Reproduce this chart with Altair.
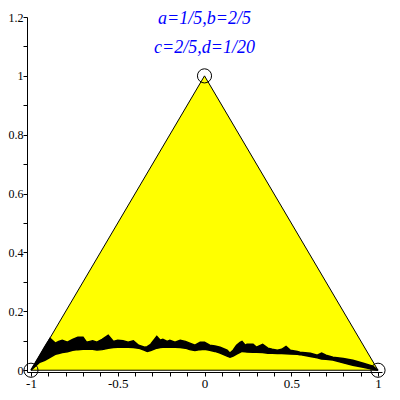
import altair as alt
import pandas as pd

# Triangle vertices
tri_x = [-1.0, 0.0, 1.0, -1.0]
tri_y = [0.0, 1.0, 0.0, 0.0]

# Fractal band: common x grid, upper and lower envelope
band_x = [-1.0, -0.95, -0.92, -0.89, -0.86, -0.84, -0.82, -0.79, -0.76, -0.73,
          -0.70, -0.68, -0.66, -0.645, -0.62, -0.59, -0.555, -0.525, -0.50, -0.47,
          -0.44, -0.41, -0.38, -0.345, -0.33, -0.31, -0.275, -0.255, -0.24, -0.215,
          -0.20, -0.17, -0.14, -0.11, -0.085, -0.055, -0.025, 0.0, 0.03, 0.06,
          0.09, 0.13, 0.147, 0.165, 0.185, 0.205, 0.216, 0.235, 0.245, 0.28,
          0.30, 0.335, 0.365, 0.39, 0.42, 0.445, 0.47, 0.495, 0.535, 0.55,
          0.61, 0.65, 0.675, 0.70, 0.74, 0.80, 0.855, 0.915, 0.97, 1.0]
band_upper = [0.0, 0.05, 0.08, 0.108, 0.092, 0.098, 0.102, 0.095, 0.105, 0.112,
              0.112, 0.095, 0.098, 0.100, 0.095, 0.105, 0.119, 0.098, 0.102, 0.100,
              0.095, 0.100, 0.085, 0.078, 0.080, 0.088, 0.115, 0.102, 0.105, 0.098,
              0.102, 0.095, 0.102, 0.098, 0.092, 0.085, 0.095, 0.095, 0.085, 0.082,
              0.078, 0.068, 0.058, 0.068, 0.085, 0.095, 0.098, 0.085, 0.088, 0.088,
              0.078, 0.088, 0.075, 0.071, 0.068, 0.071, 0.081, 0.068, 0.064, 0.061,
              0.058, 0.051, 0.058, 0.051, 0.044, 0.040, 0.034, 0.024, 0.014, 0.0]
band_lower = [0.0, 0.027, 0.034, 0.044, 0.054, 0.057, 0.060, 0.063, 0.068, 0.070,
              0.071, 0.071, 0.071, 0.071, 0.069, 0.070, 0.075, 0.077, 0.078, 0.078,
              0.078, 0.077, 0.075, 0.068, 0.064, 0.067, 0.075, 0.077, 0.078, 0.078,
              0.078, 0.078, 0.077, 0.075, 0.070, 0.067, 0.070, 0.071, 0.068, 0.064,
              0.058, 0.048, 0.044, 0.048, 0.055, 0.061, 0.064, 0.063, 0.062, 0.061,
              0.061, 0.060, 0.058, 0.058, 0.057, 0.057, 0.056, 0.055, 0.054, 0.053,
              0.047, 0.042, 0.038, 0.037, 0.035, 0.025, 0.017, 0.010, 0.003, 0.0]

# Marked vertices
pt_x = [-1.0, 0.0, 1.0]
pt_y = [0.0, 1.0, 0.0]

# Annotation text
txt = ["a=1/5,b=2/5", "c=2/5,d=1/20"]
txt_x = [0.0, 0.0]
txt_y = [1.193, 1.095]

x_ticks = [round(-1 + 0.1 * i, 1) for i in range(21)]
y_ticks = [round(0.1 * i, 1) for i in range(13)]

XDOM = [-1.023, 1.023]
YDOM = [-0.006, 1.2]

xscale = alt.Scale(domain=XDOM, nice=False, zero=False)
yscale = alt.Scale(domain=YDOM, nice=False, zero=False)

x_axis = alt.Axis(values=x_ticks, tickCount=50, title=None, grid=False, tickSize=4, labelOverlap=False,
                  labelExpr="abs(datum.value*2 - round(datum.value*2)) < 1e-6 ? replace(format(datum.value, '~g'), '\u2212', '-') : ''",
                  labelFont="Liberation Serif", labelFontSize=13, labelColor="black",
                  domainColor="black", tickColor="black", labelPadding=1, labelFlush=False)
y_axis = alt.Axis(values=y_ticks, tickCount=50, title=None, grid=False, tickSize=4, labelOverlap=False,
                  labelExpr="abs(datum.value*5 - round(datum.value*5)) < 1e-6 ? format(datum.value, '~g') : ''",
                  labelFont="Liberation Serif", labelFontSize=12, labelColor="black",
                  domainColor="black", tickColor="black", labelPadding=0, labelFlush=False)

tri_df = pd.DataFrame({"x": tri_x, "y": tri_y, "o": list(range(len(tri_x)))})
band_df = pd.DataFrame({"x": band_x, "yu": band_upper, "yl": band_lower})
pt_df = pd.DataFrame({"x": pt_x, "y": pt_y})
txt_df = pd.DataFrame({"x": txt_x, "y": txt_y, "t": txt})

fill = alt.Chart(tri_df.iloc[:3]).mark_area(color="#ffff00", clip=False).encode(
    x=alt.X("x:Q", scale=xscale, axis=x_axis),
    y=alt.Y("y:Q", scale=yscale, axis=y_axis),
    y2=alt.datum(0),
)

outline = alt.Chart(tri_df).mark_line(color="black", strokeWidth=1).encode(
    x=alt.X("x:Q", scale=xscale),
    y=alt.Y("y:Q", scale=yscale),
    order="o:Q",
)

band = alt.Chart(band_df).mark_area(color="black", stroke="black", strokeWidth=1.5).encode(
    x=alt.X("x:Q", scale=xscale),
    y=alt.Y("yu:Q", scale=yscale),
    y2="yl:Q",
)

pts = alt.Chart(pt_df).mark_point(shape="circle", size=200, filled=False,
                                  color="black", strokeWidth=1, opacity=1, clip=False).encode(
    x=alt.X("x:Q", scale=xscale),
    y=alt.Y("y:Q", scale=yscale),
)

texts = alt.Chart(txt_df).mark_text(font="Liberation Serif", fontStyle="italic", fontSize=18,
                                    color="#0000ff", align="center", baseline="middle").encode(
    x=alt.X("x:Q", scale=xscale),
    y=alt.Y("y:Q", scale=yscale),
    text="t:N",
)

chart = alt.layer(fill, outline, band, pts, texts).properties(
    width=355, height=355,
    autosize=alt.AutoSizeParams(type="none"),
    padding={"left": 19, "top": 9, "right": 10, "bottom": 20},
).configure_view(stroke=None)

chart.save("out.html", embed_options={"renderer": "svg", "actions": False})
